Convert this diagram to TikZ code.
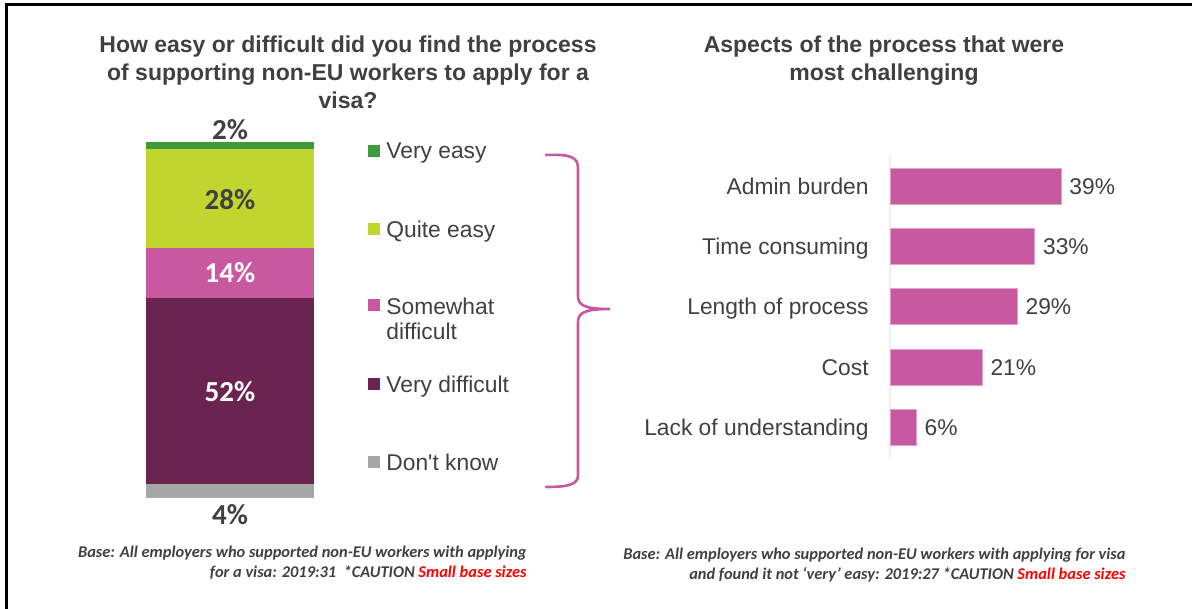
\documentclass[tikz,border=0pt]{standalone}
\usepackage{fontspec}
\setmainfont{Liberation Sans}
\newfontfamily\calibri{Carlito}
\usepackage{tikz}
\usetikzlibrary{positioning}

\definecolor{txtgray}{HTML}{404040}
\definecolor{veasy}{HTML}{3F9A3A}
\definecolor{qeasy}{HTML}{C0D62E}
\definecolor{sdiff}{HTML}{C8589F}
\definecolor{vdiff}{HTML}{6B2350}
\definecolor{dknow}{HTML}{A6A6A6}
\definecolor{axisgray}{HTML}{EFEFEF}

\tikzset{
  title/.style={font=\bfseries\fontsize{11.5}{14}\selectfont, text=txtgray, align=center, inner sep=0pt},
  legtext/.style={font=\fontsize{11.4}{12.5}\selectfont, text=txtgray, align=left, inner sep=0pt},
  cattext/.style={font=\fontsize{11.4}{12.5}\selectfont, text=txtgray, inner sep=0pt, text height=8.1pt, text depth=0pt},
  pct/.style={font=\calibri\bfseries\fontsize{14.5}{16}\selectfont, inner sep=0pt},
  foot/.style={font=\calibri\bfseries\itshape\fontsize{8.2}{10}\selectfont, text=txtgray, align=right, inner sep=0pt},
  key/.style={minimum size=6pt, inner sep=0pt, outer sep=0pt},
  barbox/.style={fill=sdiff, draw=sdiff!55!white, line width=0.4pt, minimum height=18pt, inner sep=0pt, outer sep=0pt, anchor=west},
}

\begin{document}
\begin{tikzpicture}[x=0.5pt, y=-0.5pt]
\useasboundingbox (0,0) rectangle (1192,609);
\draw[line width=1.5pt] (6,609) -- (6,5) -- (1192,5);

\node[title, anchor=north] (qtitle) at (348,35) {How easy or difficult did you find the process\\of supporting non-EU workers to apply for a\\visa?};
\node[title, anchor=north] (atitle) at (884,35) {Aspects of the process that were\\most challenging};

\fill[veasy] (146,142) rectangle (314,149);
\fill[qeasy] (146,149) rectangle (314,248);
\fill[sdiff] (146,248) rectangle (314,298);
\fill[vdiff] (146,298) rectangle (314,484);
\fill[dknow] (146,484) rectangle (314,498);

\node[pct, text=txtgray] (p2) at (230,130) {2\%};
\node[pct, text=txtgray] (p28) at (230,200) {28\%};
\node[pct, text=white] (p14) at (230,273) {14\%};
\node[pct, text=white] (p52) at (230,392) {52\%};
\node[pct, text=txtgray] (p4) at (230,515) {4\%};

\node[key, fill=veasy] (kVE) at (374,151) {};
\node[key, fill=qeasy] (kQE) at (374,229) {};
\node[key, fill=sdiff] (kSD) at (374,305) {};
\node[key, fill=vdiff] (kVD) at (374,384) {};
\node[key, fill=dknow] (kDK) at (374,462) {};
\node[legtext, anchor=base west] (lVE) at (386,159) {Very easy};
\node[legtext, anchor=base west] (lQE) at (386,237) {Quite easy};
\node[legtext, anchor=base west] (lSD) at (386,339) {Somewhat\\difficult};
\node[legtext, anchor=base west] (lVD) at (386,392) {Very difficult};
\node[legtext, anchor=base west] (lDK) at (386,470) {\addfontfeature{Ligatures=TeXOff}Don't know};

\draw[sdiff, line width=1.3pt, line cap=round]
  (546,155) .. controls (570,154) and (578,157) .. (578,168) -- (578,296)
  .. controls (578,305) and (584,309) .. (610,309)
  .. controls (584,309) and (578,313) .. (578,322) -- (578,475)
  .. controls (578,484) and (570,487) .. (546,487);

\draw[axisgray, line width=0.6pt] (890,155) -- (890,457);
\foreach \lab/\val [count=\i] in {Admin burden/39, Time consuming/33, Length of process/29, Cost/21, Lack of understanding/6}{
  \node[barbox, minimum width=\val*2.1925pt] (bar\i) at (890,{186+(\i-1)*60.3}) {};
  \node[cattext, anchor=east] (cat\i) at (869,{186+(\i-1)*60.3}) {\lab};
  \node[cattext, right=4pt of bar\i] (val\i) {\val\%};
}

\node[foot, anchor=north east] (fleft) at (527,546) {Base: All employers who supported non-EU workers with applying\\for a visa: 2019:31~ *CAUTION \textcolor{red}{Small base sizes}};
\node[foot, anchor=north east] (fright) at (1126,548) {Base: All employers who supported non-EU workers with applying for visa\\and found it not ‘very’ easy: 2019:27 *CAUTION \textcolor{red}{Small base sizes}};
\end{tikzpicture}
\end{document}
